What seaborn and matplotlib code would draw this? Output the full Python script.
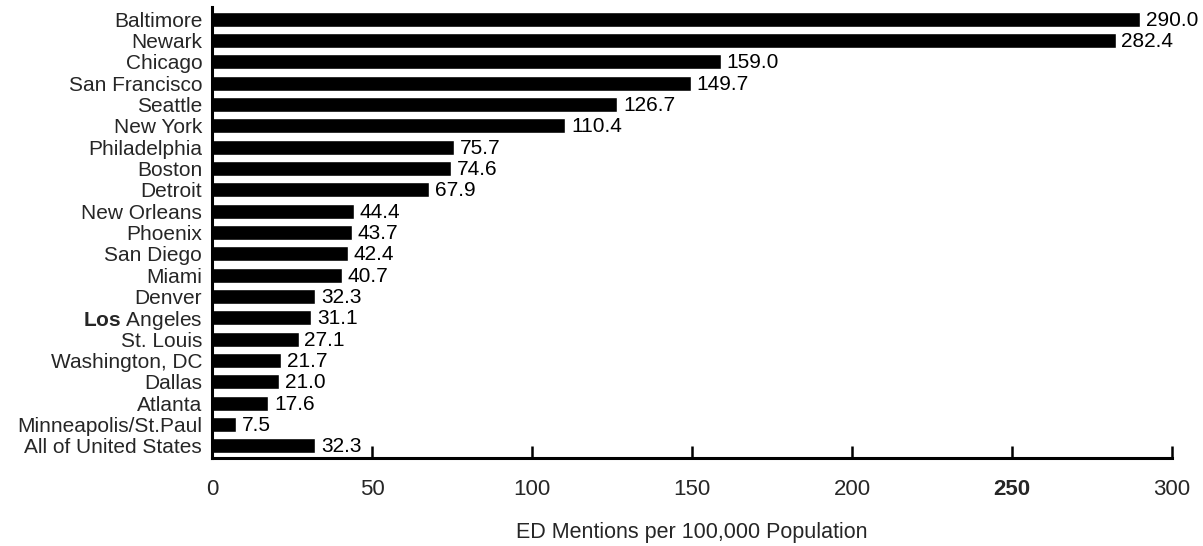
import matplotlib
matplotlib.use("Agg")
import matplotlib.pyplot as plt
import seaborn as sns
import pandas as pd

cities = ["Baltimore", "Newark", "Chicago", "San Francisco", "Seattle", "New York",
          "Philadelphia", "Boston", "Detroit", "New Orleans", "Phoenix", "San Diego",
          "Miami", "Denver", "Los Angeles", "St. Louis", "Washington, DC", "Dallas",
          "Atlanta", "Minneapolis/St.Paul", "All of United States"]
values = [290.0, 282.4, 159.0, 149.7, 126.7, 110.4, 75.7, 74.6, 67.9, 44.4, 43.7,
          42.4, 40.7, 32.3, 31.1, 27.1, 21.7, 21.0, 17.6, 7.5, 32.3]
xticks = [0, 50, 100, 150, 200, 250, 300]
xlabel = "ED Mentions per 100,000 Population"

sns.set_theme(style="white")
plt.rcParams['font.family'] = ['Liberation Sans', 'DejaVu Sans']
plt.rcParams['mathtext.fontset'] = 'custom'
plt.rcParams['mathtext.rm'] = 'Liberation Sans'
plt.rcParams['mathtext.bf'] = 'Liberation Sans:bold'

df = pd.DataFrame({"city": cities, "value": values})

fig = plt.figure(figsize=(12.03, 5.46), dpi=100)
ax = fig.add_axes([0.1762, 0.161, 0.798, 0.826])
sns.barplot(data=df, x="value", y="city", orient="h", color="black",
            width=0.7, ax=ax, saturation=1)
for p, v in zip(ax.patches, values):
    ax.text(p.get_width() + 1.8, p.get_y() + p.get_height() / 2 + 0.05, f"{v:.1f}",
            va="center", ha="left", fontsize=15, color="black")

ax.set_xlim(0, 300)
ax.set_ylim(len(cities) - 0.42, -0.56)
ax.set_xticks(xticks)
ax.set_xticklabels([str(t) for t in xticks], fontsize=16)
for lbl in ax.get_xticklabels():
    if lbl.get_text() == "250":
        lbl.set_fontweight("bold")
labels = [("$\\mathbf{Los}$ Angeles" if c == "Los Angeles" else c) for c in cities]
ax.set_yticks(range(len(cities)))
ax.set_yticklabels(labels, fontsize=15)
ax.tick_params(axis="x", bottom=True, direction="in", length=9, width=1.8,
               pad=15, color="black")
ax.tick_params(axis="y", left=False, length=0, pad=7)
ax.set_xlabel(xlabel, fontsize=15.5, labelpad=16)
ax.set_ylabel("")
for s in ["top", "right"]:
    ax.spines[s].set_visible(False)
for s in ["left", "bottom"]:
    ax.spines[s].set_color("black")
    ax.spines[s].set_linewidth(2.2)
fig.savefig("out.png", dpi=100)
